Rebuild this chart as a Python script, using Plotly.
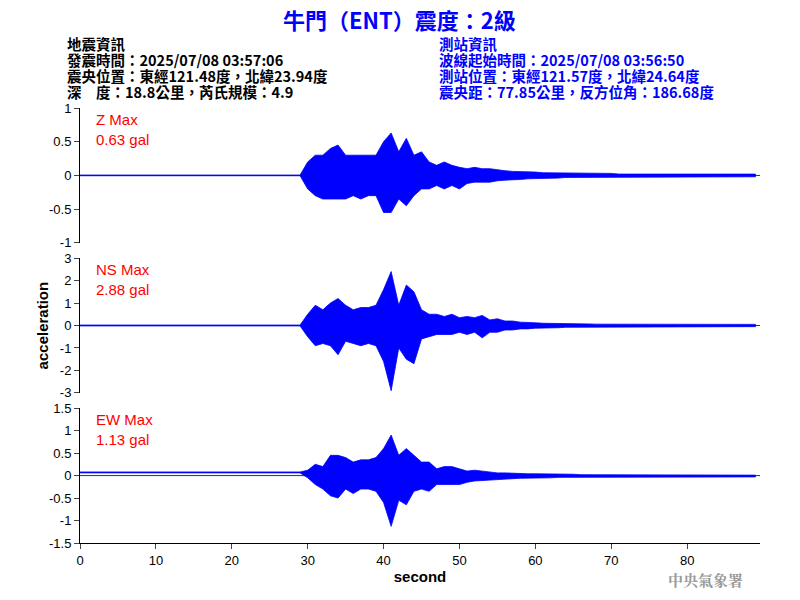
import plotly.graph_objects as go

t = [0, 29] + list(range(30, 90))

z_up = [0.005, 0.005, 0.2,0.3,0.3,0.4,0.45,0.3,0.3,0.3,0.3,0.3, 0.5,0.63,0.35,0.55,0.3,0.35,0.2,0.15,0.2,0.15,
        0.12,0.1,0.12,0.1,0.1,0.08,0.07,0.06,0.06,0.05, 0.05,0.04,0.04,0.04,0.03,0.03,0.03,0.03,0.03,0.03,
        0.03,0.02,0.02,0.02,0.02,0.02,0.02,0.02,0.02,0.02, 0.02,0.02,0.02,0.02,0.02,0.02,0.02,0.02,0.02,0.02]
z_lo = [-0.005, -0.005, -0.2,-0.3,-0.35,-0.35,-0.35,-0.35,-0.3,-0.35,-0.3,-0.3, -0.55,-0.55,-0.35,-0.45,-0.3,-0.2,-0.2,-0.15,-0.2,-0.15,
        -0.2,-0.12,-0.1,-0.1,-0.1,-0.08,-0.07,-0.06,-0.06,-0.05, -0.05,-0.04,-0.04,-0.04,-0.03,-0.03,-0.03,-0.03,-0.03,-0.03,
        -0.03,-0.02,-0.02,-0.02,-0.02,-0.02,-0.02,-0.02,-0.02,-0.02, -0.02,-0.02,-0.02,-0.02,-0.02,-0.02,-0.02,-0.02,-0.02,-0.02]
ns_up = [0.02, 0.02, 0.5,0.9,0.7,1.0,1.2,0.9,0.7,0.8,0.8,0.9, 1.6,2.4,0.9,1.8,1.5,0.7,0.5,0.5,0.4,0.5,
         0.35,0.4,0.35,0.45,0.25,0.3,0.2,0.2,0.15,0.15, 0.12,0.1,0.1,0.1,0.08,0.08,0.07,0.07,0.06,0.06,
         0.06,0.05,0.05,0.05,0.05,0.05,0.05,0.05,0.05,0.05, 0.05,0.05,0.05,0.05,0.05,0.05,0.05,0.05,0.05,0.05]
ns_lo = [-0.02, -0.02, -0.5,-0.9,-0.8,-0.9,-1.3,-0.7,-0.8,-0.9,-0.8,-0.9, -1.6,-2.9,-1.0,-1.5,-1.7,-0.6,-0.5,-0.4,-0.4,-0.4,
         -0.3,-0.4,-0.3,-0.55,-0.3,-0.3,-0.2,-0.2,-0.15,-0.15, -0.12,-0.1,-0.1,-0.1,-0.08,-0.08,-0.07,-0.07,-0.06,-0.06,
         -0.06,-0.05,-0.05,-0.05,-0.05,-0.05,-0.05,-0.05,-0.05,-0.05, -0.05,-0.05,-0.05,-0.05,-0.05,-0.05,-0.05,-0.05,-0.05,-0.05]
ew_up = [0.08, 0.08, 0.12,0.25,0.2,0.45,0.45,0.4,0.3,0.35,0.35,0.4, 0.6,0.9,0.45,0.6,0.45,0.3,0.3,0.15,0.2,0.2,
         0.15,0.1,0.12,0.1,0.08,0.06,0.06,0.05,0.05,0.04, 0.04,0.04,0.03,0.03,0.03,0.03,0.02,0.02,0.02,0.02,
         0.02,0.02,0.02,0.01,0.01,0.01,0.01,0.01,0.01,0.01, 0.01,0.01,0.01,0.01,0.01,0.01,0.01,0.01,0.01,0.01]
ew_lo = [0.06, 0.06, -0.05,-0.2,-0.3,-0.45,-0.5,-0.3,-0.4,-0.3,-0.3,-0.35, -0.6,-1.13,-0.55,-0.65,-0.35,-0.3,-0.35,-0.2,-0.2,-0.2,
         -0.2,-0.15,-0.12,-0.1,-0.1,-0.08,-0.08,-0.07,-0.06,-0.06, -0.05,-0.05,-0.05,-0.04,-0.04,-0.04,-0.04,-0.04,-0.03,-0.03,
         -0.03,-0.03,-0.03,-0.03,-0.03,-0.03,-0.03,-0.03,-0.03,-0.03, -0.03,-0.03,-0.03,-0.03,-0.03,-0.03,-0.03,-0.03,-0.03,-0.03]

left_lines = ["地震資訊", "發震時間：2025/07/08 03:57:06", "震央位置：東經121.48度，北緯23.94度", "深　度：18.8公里，芮氏規模：4.9"]
right_lines = ["測站資訊", "波線起始時間：2025/07/08 03:56:50", "測站位置：東經121.57度，北緯24.64度", "震央距：77.85公里，反方位角：186.68度"]

panels = [("y", z_up, z_lo, [-1, 1], [-1, -0.5, 0, 0.5, 1], ["-1", "-0.5", "0", "0.5", "1"], [0.69, 1.0], "Z Max", "0.63 gal"),
          ("y2", ns_up, ns_lo, [-3, 3], [-3, -2, -1, 0, 1, 2, 3], ["-3", "-2", "-1", "0", "1", "2", "3"], [0.345, 0.655], "NS Max", "2.88 gal"),
          ("y3", ew_up, ew_lo, [-1.5, 1.5], [-1.5, -1, -0.5, 0, 0.5, 1, 1.5], ["-1.5", "-1", "-0.5", "0", "0.5", "1", "1.5"], [0.0, 0.31], "EW Max", "1.13 gal")]

fig = go.Figure()
F = "Liberation Sans, Arial, sans-serif"
layout = {}
for i, (ya, up, lo, rng, tv, tt, dom, lab1, lab2) in enumerate(panels):
    xa = "x" if i == 0 else f"x{i+1}"
    fig.add_trace(go.Scatter(x=[0, 89.6], y=[0, 0], mode="lines", line=dict(color="black", width=0.8),
                             xaxis=xa, yaxis=ya, showlegend=False, hoverinfo="skip"))
    fig.add_trace(go.Scatter(x=t + t[::-1], y=up + lo[::-1], fill="toself", fillcolor="#0000ff",
                             line=dict(color="#0000ff", width=0.8), mode="lines", xaxis=xa, yaxis=ya,
                             showlegend=False, hoverinfo="skip"))
    key = "yaxis" if i == 0 else f"yaxis{i+1}"
    layout[key] = dict(domain=dom, range=rng, tickvals=tv, ticktext=tt, showline=True, linecolor="black",
                       ticks="outside", ticklen=5, showgrid=False, zeroline=False, anchor=xa, automargin=False,
                       tickfont=dict(size=13, color="black", family=F))
    xkey = "xaxis" if i == 0 else f"xaxis{i+1}"
    layout[xkey] = dict(range=[0, 89.6], anchor=ya, showgrid=False, zeroline=False, automargin=False,
                        showline=(i == 2), linecolor="black", showticklabels=(i == 2),
                        ticks="outside" if i == 2 else "", ticklen=5, tickvals=list(range(0, 90, 10)),
                        tickfont=dict(size=13, color="black", family=F))
    yt = dom[1]
    fig.add_annotation(xref="paper", yref="paper", x=0.02, y=yt - 0.003, text=lab1 + "<br>" + lab2,
                       showarrow=False, xanchor="left", yanchor="top", align="left",
                       font=dict(size=15, color="#ff0000", family=F))

layout["xaxis3"]["title"] = dict(text="<b>second</b>", font=dict(size=15, color="black", family=F), standoff=4)
fig.update_layout(**layout)

CJK = "Noto Sans CJK TC, Liberation Sans, sans-serif"
fig.add_annotation(xref="paper", yref="paper", x=-0.07, y=0.5, text="<b>acceleration</b>", textangle=-90,
                   showarrow=False, font=dict(size=15, color="black", family=F))
fig.add_annotation(xref="paper", yref="paper", x=0.47, y=1.205, yanchor="middle", text="<b>牛門（ENT）震度：2級</b>",
                   showarrow=False, xanchor="center", font=dict(size=22, color="#0000ff", family=CJK))
for k in range(4):
    yy = (535 - (35 + 16 * k)) / 435
    fig.add_annotation(xref="paper", yref="paper", x=-0.022, y=yy, text="<b>" + left_lines[k] + "</b>",
                       showarrow=False, xanchor="left", yanchor="middle", align="left",
                       font=dict(size=14.5, color="black", family=CJK))
    fig.add_annotation(xref="paper", yref="paper", x=0.525, y=yy, text="<b>" + right_lines[k] + "</b>",
                       showarrow=False, xanchor="left", yanchor="middle", align="left",
                       font=dict(size=14.5, color="#0000ff", family=CJK))
fig.add_annotation(xref="paper", yref="paper", x=0.978, y=-0.085, text="<b>中央氣象署</b>", showarrow=False,
                   xanchor="right", yanchor="middle", font=dict(size=15, color="#999999", family="Noto Serif CJK TC, Noto Sans CJK TC"))

fig.update_layout(width=800, height=600, margin=dict(l=72, r=48, t=100, b=65, autoexpand=False),
                  paper_bgcolor="white", plot_bgcolor="white")
fig.write_html("out.html")
